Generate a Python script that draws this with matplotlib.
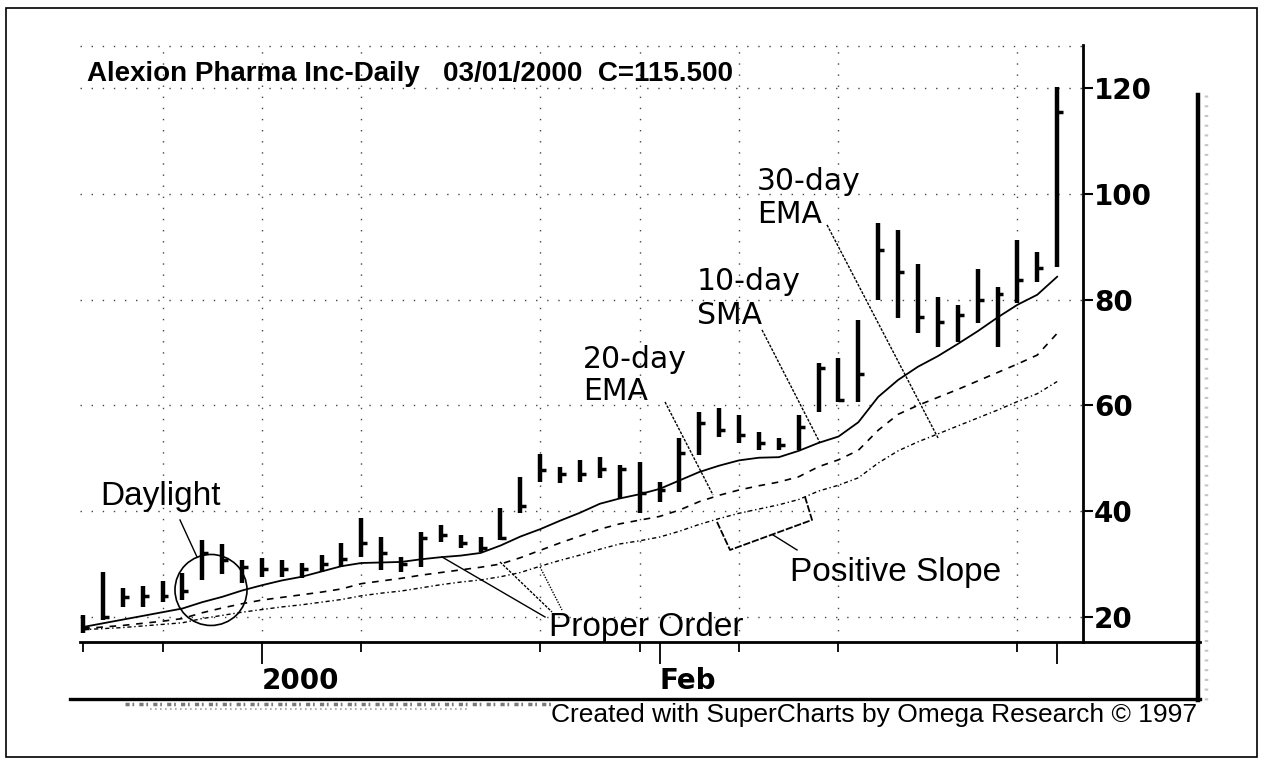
import matplotlib
matplotlib.use('Agg')
import matplotlib.pyplot as plt
from matplotlib.lines import Line2D
from matplotlib.patches import Ellipse, Rectangle
import numpy as np

# ---------------- data ----------------
dates = ['12/20', '12/21', '12/22', '12/23', '12/27', '12/28', '12/29', '12/30', '12/31',
         '01/03', '01/04', '01/05', '01/06', '01/07', '01/10', '01/11', '01/12', '01/13', '01/14',
         '01/18', '01/19', '01/20', '01/21', '01/24', '01/25', '01/26', '01/27', '01/28', '01/31',
         '02/01', '02/02', '02/03', '02/04', '02/07', '02/08', '02/09', '02/10', '02/11',
         '02/14', '02/15', '02/16', '02/17', '02/18', '02/22', '02/23', '02/24', '02/25',
         '02/28', '02/29', '03/01']
highs = [20.4, 28.5, 25.5, 25.9, 26.8, 28.3, 34.6, 33.8, 30.8, 31.1,
         30.8, 30.2, 31.7, 34.0, 38.7, 35.1, 31.3, 36.1, 37.4, 35.5,
         35.1, 40.6, 46.5, 50.8, 48.4, 49.7, 50.2, 48.7, 49.3, 45.5,
         53.8, 58.8, 59.5, 58.2, 55.0, 53.8, 58.2, 68.0, 69.0, 76.1,
         94.5, 93.2, 86.7, 80.5, 79.0, 85.8, 82.4, 91.3, 89.0, 120.2]
lows = [17.0, 19.4, 21.9, 21.9, 22.8, 23.2, 27.0, 28.1, 26.4, 27.6,
        27.6, 27.4, 28.5, 29.5, 31.3, 28.9, 28.5, 29.5, 34.2, 33.0,
        32.3, 34.6, 39.7, 45.5, 45.3, 45.5, 46.3, 42.5, 39.7, 41.7,
        43.6, 50.6, 54.0, 52.9, 51.6, 51.6, 51.6, 58.8, 60.6, 60.6,
        79.9, 76.5, 73.7, 71.0, 72.0, 75.6, 71.0, 79.4, 83.3, 86.2]
closes = [18.0, 20.0, 23.8, 24.0, 24.0, 25.0, 32.0, 30.8, 29.5, 29.0,
          29.0, 29.0, 30.0, 31.0, 34.0, 32.0, 30.0, 35.0, 35.5, 34.0,
          33.0, 35.0, 41.0, 47.8, 47.0, 47.0, 48.0, 48.0, 43.4, 44.0,
          51.0, 56.7, 55.3, 54.4, 52.9, 52.5, 55.9, 67.0, 61.0, 66.0,
          89.4, 85.2, 76.7, 75.8, 77.1, 80.0, 81.0, 83.7, 86.0, 115.5]
sma10 = [18.1, 18.8, 19.5, 20.2, 20.9, 21.6, 22.8, 23.8, 25.0, 26.0,
         26.9, 27.6, 28.6, 29.6, 30.2, 30.3, 30.4, 30.9, 31.3, 31.6,
         32.1, 33.5, 35.2, 36.6, 38.2, 39.7, 41.4, 42.4, 43.2, 44.2,
         45.8, 47.4, 48.6, 49.6, 50.1, 50.2, 51.4, 52.9, 54.1, 56.8,
         61.6, 64.8, 67.3, 69.3, 71.6, 74.0, 76.6, 79.0, 80.9, 84.3]
ema20 = [17.8, 18.1, 18.4, 18.8, 19.2, 19.7, 20.8, 21.7, 22.5, 23.2,
         23.7, 24.2, 24.7, 25.3, 26.3, 26.8, 27.3, 27.9, 28.4, 28.9,
         29.4, 30.0, 31.2, 32.6, 34.0, 35.3, 36.6, 37.6, 38.3, 39.0,
         40.2, 41.8, 43.0, 44.0, 44.8, 45.5, 46.5, 48.4, 49.7, 51.5,
         55.3, 58.3, 60.0, 61.5, 63.0, 64.6, 66.2, 67.8, 69.5, 73.6]
ema30 = [17.6, 17.8, 18.0, 18.3, 18.6, 18.9, 19.7, 20.3, 20.9, 21.4,
         21.9, 22.3, 22.8, 23.3, 24.0, 24.5, 24.9, 25.5, 26.1, 26.6,
         27.0, 27.6, 28.4, 29.6, 30.7, 31.7, 32.8, 33.8, 34.4, 35.1,
         36.2, 37.5, 38.6, 39.6, 40.4, 41.2, 42.2, 43.8, 44.9, 46.3,
         49.1, 51.4, 53.1, 54.6, 56.1, 57.6, 59.1, 60.7, 62.2, 64.5]
y_ticks = [20, 40, 60, 80, 100, 120]
major_tick_idx = [9, 29, 49]
major_tick_labels = ['2000', 'Feb', '']
minor_tick_idx = [0, 4, 14, 23, 28, 33, 38, 47]
grid_idx = [4, 9, 14, 23, 28, 33, 38, 47]
title = 'Alexion Pharma Inc-Daily   03/01/2000  C=115.500'
footer = 'Created with SuperCharts by Omega Research \u00a9 1997'

# ---------------- figure ----------------
W, H = 1264, 766
fig = plt.figure(figsize=(W / 100, H / 100), dpi=100)
fig.patch.set_facecolor('white')


def fx(x):
    return x / W


def fy(y):
    return 1 - y / H


L, R, T, B = 80, 1083, 45, 642
ax = fig.add_axes([fx(L), fy(B), fx(R) - fx(L), fy(T) - fy(B)])
ax.set_facecolor('white')
x = np.arange(len(dates))
ax.set_xlim(-0.15, 50.3)
ax.set_ylim(15.27, 128.1)


def d(xp, yp):
    """pixel position in the picture -> data coordinates"""
    return ((xp - 83) / 19.88, 20 + (617 - yp) / 5.29)


# grid
grid_kw = dict(color='#444444', lw=1.0, ls=(0, (1, 7)), zorder=0)
for v in y_ticks:
    ax.axhline(v, **grid_kw)
ax.axhline(128.0, **grid_kw)
for g in grid_idx:
    ax.axvline(g, **grid_kw)

# moving averages
ax.plot(x, sma10, color='black', lw=1.3, zorder=3)
ax.plot(x, ema20, color='black', lw=1.2, ls=(0, (4, 4)), zorder=3)
ax.plot(x, ema30, color='black', lw=1.0, ls=(0, (3, 2, 1, 2)), zorder=3)

# price bars
ax.vlines(x, lows, highs, color='black', lw=3.2, zorder=4)
ax.hlines(closes, x, x + 0.3, color='black', lw=2.5, zorder=4)

# axes / ticks
for s in ('left', 'top'):
    ax.spines[s].set_visible(False)
ax.spines['right'].set_linewidth(2)
ax.spines['bottom'].set_linewidth(2)
ax.yaxis.tick_right()
ax.set_yticks(y_ticks)
ax.set_yticklabels([str(v) for v in y_ticks], fontfamily='DejaVu Sans',
                   fontweight='bold', fontsize=20)
ax.tick_params(axis='y', direction='out', length=7, width=1.5, pad=1)
ax.set_xticks(major_tick_idx)
ax.set_xticklabels(major_tick_labels, fontfamily='DejaVu Sans',
                   fontweight='bold', fontsize=20, ha='left')
ax.set_xticks(minor_tick_idx, minor=True)
ax.tick_params(axis='x', which='major', direction='out', length=16, width=1.3, pad=2)
ax.tick_params(axis='x', which='minor', direction='out', length=7, width=1.3)

# ---------------- annotations ----------------
lab_kw = dict(fontfamily='DejaVu Sans', fontsize=21.5, va='baseline', ha='left',
              color='black', zorder=6)
thin_kw = dict(fontfamily='Liberation Sans', fontsize=24, va='baseline', ha='left',
               color='black', zorder=6)
ptr_kw = dict(color='black', lw=1.0, ls=(0, (2, 1)), clip_on=False, zorder=5)


def pline(pts, **kw):
    xs, ys = zip(*[d(*p) for p in pts])
    ax.plot(xs, ys, **kw)


ax.text(*d(583, 368), '20-day', **lab_kw)
ax.text(*d(583, 400), 'EMA', **lab_kw)
pline([(665, 402), (713, 495)], **ptr_kw)

ax.text(*d(697, 290), '10-day', **lab_kw)
ax.text(*d(697, 324), 'SMA', **lab_kw)
pline([(762, 330), (820, 443)], **ptr_kw)

ax.text(*d(757, 190), '30-day', **lab_kw)
ax.text(*d(757, 223), 'EMA', **lab_kw)
pline([(827, 225), (938, 438)], **ptr_kw)

ax.text(*d(100, 505), 'Daylight', **thin_kw)
pline([(180, 520), (197, 557)], color='black', lw=1.0, clip_on=False, zorder=5)
cx, cy = d(211, 590)
ax.add_patch(Ellipse((cx, cy), 72 / 19.88, 71 / 5.29, fill=False, ec='black',
                     lw=1.2, clip_on=False, zorder=5))

ax.text(*d(549, 636), 'Proper Order', **thin_kw)
pline([(442, 557), (545, 617)], color='black', lw=1.0, clip_on=False, zorder=5)
pline([(500, 562), (552, 612)], color='black', lw=1.0, ls=(0, (2, 1)), clip_on=False, zorder=5)
pline([(540, 567), (562, 610)], color='black', lw=1.0, ls=(0, (1, 1)), clip_on=False, zorder=5)

ax.text(*d(790, 581), 'Positive Slope', **thin_kw)
pline([(717, 522), (730, 550), (812, 520), (805, 497)], color='black', lw=1.3,
      ls=(0, (4, 1)), clip_on=False, zorder=5)
pline([(773, 535), (797, 550)], color='black', lw=1.0, clip_on=False, zorder=5)

# ---------------- figure-level decoration ----------------
fig.text(fx(87), fy(81), title, fontfamily='Liberation Sans', fontweight='bold',
         fontsize=20, va='baseline', ha='left')
fig.text(fx(1197), fy(722), footer, fontfamily='Liberation Sans', fontsize=19,
         va='baseline', ha='right')


def fline(x0, y0, x1, y1, **kw):
    fig.add_artist(Line2D([fx(x0), fx(x1)], [fy(y0), fy(y1)],
                          transform=fig.transFigure, **kw))


fline(1083, 642, 1200, 642, color='black', lw=2)
fline(1198, 95, 1198, 700, color='black', lw=3.2)
fline(1206, 95, 1206, 700, color='#c4c4c4', lw=2.5, ls=(0, (0.6, 2.2)))
fline(70, 699, 1200, 699, color='black', lw=2.4)
fline(125, 704, 555, 704, color='#7a7a7a', lw=2.5, ls=(0, (1.2, 0.8, 0.5, 1.5)))
fline(150, 709, 470, 709, color='#b0b0b0', lw=1.5, ls=(0, (0.8, 1.6)))
fig.add_artist(Rectangle((fx(6), fy(757)), fx(1257) - fx(6), fy(8) - fy(757),
                         fill=False, ec='black', lw=1.2, transform=fig.transFigure))

fig.savefig('out.png', dpi=100, facecolor='white')
